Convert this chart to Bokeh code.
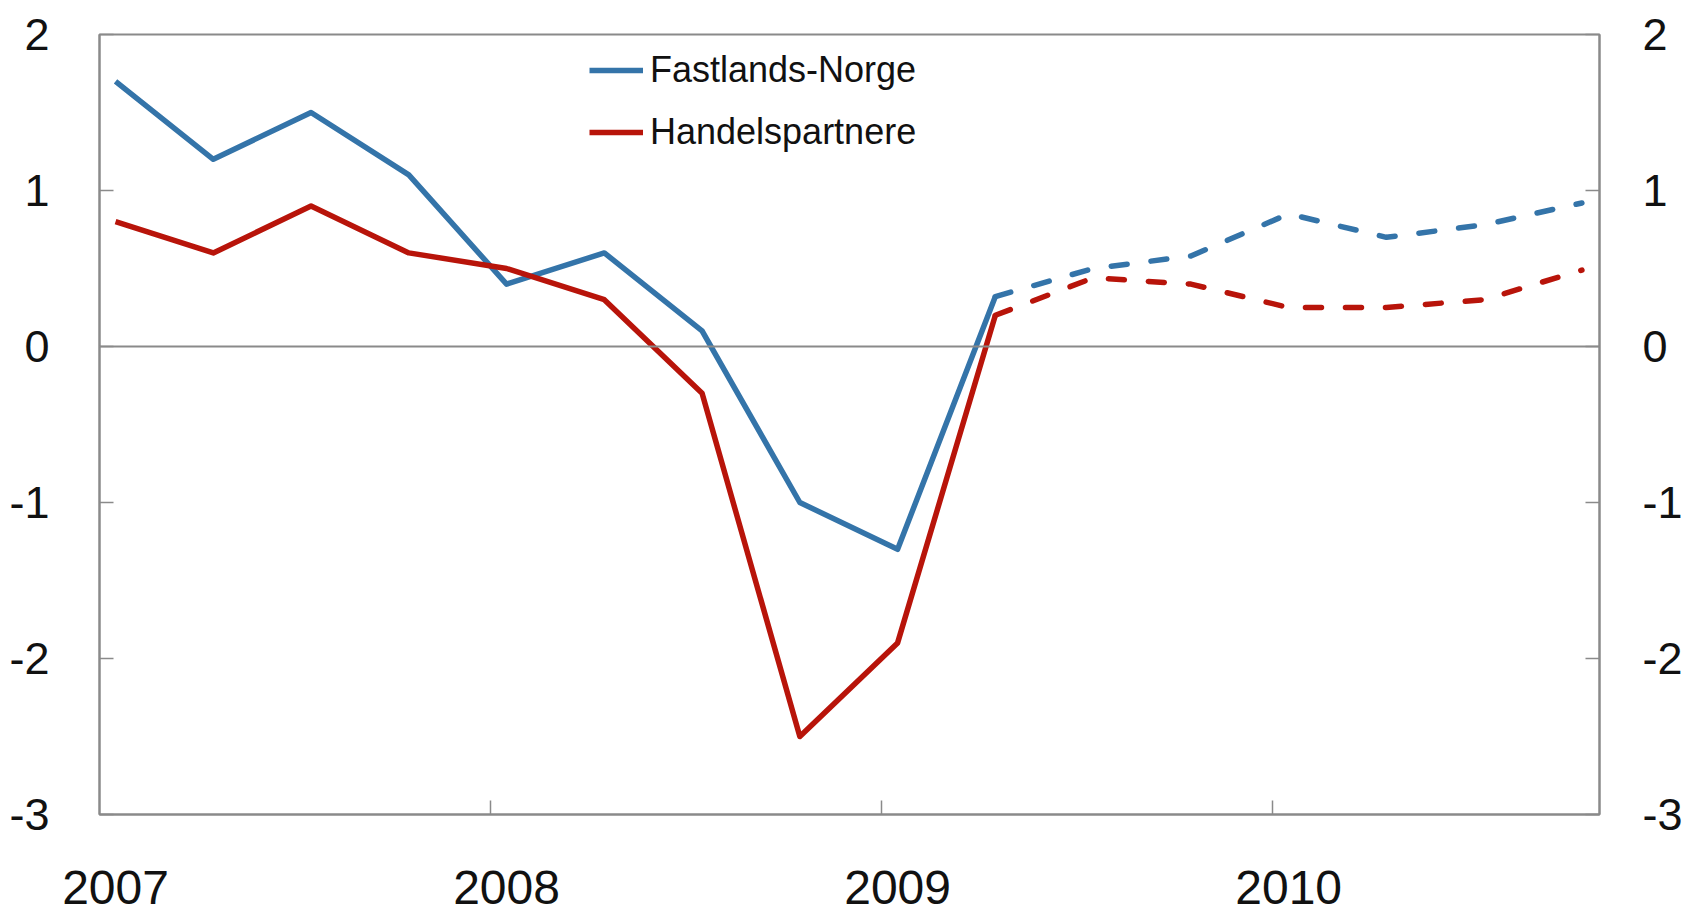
from bokeh.plotting import figure
from bokeh.models import (Range1d, FixedTicker, LinearAxis, Span, Legend, LegendItem)
from bokeh.embed import file_html
from bokeh.resources import INLINE

# ---- data ----
quarters = list(range(16))  # 2007Q1 .. 2010Q4
fastlands = [1.70, 1.20, 1.50, 1.10, 0.40, 0.60, 0.10, -1.00, -1.30, 0.32,
             0.50, 0.58, 0.85, 0.70, 0.78, 0.92]
handels = [0.80, 0.60, 0.90, 0.60, 0.50, 0.30, -0.30, -2.50, -1.90, 0.20,
           0.44, 0.40, 0.25, 0.25, 0.30, 0.49]
forecast_start = 9
year_labels = ["2007", "2008", "2009", "2010"]
year_label_pos = [0, 4, 8, 12]
year_ticks = [3.84, 7.84, 11.84]
y_ticks = [-3, -2, -1, 0, 1, 2]
names = ["Fastlands-Norge", "Handelspartnere"]

BLUE = "#3474a9"
RED = "#b8140a"
GRAY = "#8a8a8a"
FONT = "Liberation Sans"
TXT = "#111111"

W, H = 1688, 908
p = figure(width=W, height=H, x_range=Range1d(-0.164, 15.18), y_range=Range1d(-3, 2),
           output_backend="svg", toolbar_location=None,
           x_axis_location=None, y_axis_location=None,
           min_border_left=99, min_border_right=89, min_border_top=34, min_border_bottom=94)
p.grid.visible = False
p.outline_line_color = GRAY
p.outline_line_width = 2
p.background_fill_color = "white"
p.border_fill_color = "white"

y_overrides = {t: str(t) for t in y_ticks}

def style_y(ax, standoff):
    ax.ticker = FixedTicker(ticks=y_ticks)
    ax.major_label_overrides = y_overrides
    ax.major_tick_in = 14
    ax.major_tick_out = 0
    ax.minor_tick_line_color = None
    ax.major_tick_line_color = GRAY
    ax.major_tick_line_width = 1.5
    ax.axis_line_color = GRAY
    ax.axis_line_width = 2
    ax.major_label_text_font = FONT
    ax.major_label_text_font_size = "45px"
    ax.major_label_text_color = TXT
    ax.major_label_standoff = standoff

yl = LinearAxis()
style_y(yl, 50)
p.add_layout(yl, "left")
yr = LinearAxis()
style_y(yr, 43)
p.add_layout(yr, "right")

xb = LinearAxis(ticker=FixedTicker(ticks=year_label_pos, minor_ticks=year_ticks))
xb.major_label_overrides = dict(zip(year_label_pos, year_labels))
xb.major_tick_in = 0
xb.major_tick_out = 0
xb.major_tick_line_color = None
xb.minor_tick_in = 14
xb.minor_tick_out = 0
xb.minor_tick_line_color = GRAY
xb.minor_tick_line_width = 1.5
xb.axis_line_color = GRAY
xb.axis_line_width = 2
xb.major_label_text_font = FONT
xb.major_label_text_font_size = "48px"
xb.major_label_text_color = TXT
xb.major_label_text_line_height = 0.6
xb.major_label_standoff = 56
p.add_layout(xb, "below")

p.add_layout(Span(location=0, dimension="width", line_color=GRAY, line_width=2))

renderers = []
for vals, col, name in [(fastlands, BLUE, names[0]), (handels, RED, names[1])]:
    r = p.line(quarters[:forecast_start + 1], vals[:forecast_start + 1],
               line_color=col, line_width=5.5, line_join="round")
    p.line(quarters[forecast_start:], vals[forecast_start:], line_color=col,
           line_width=5.5, line_dash="16 24", line_cap="round", line_join="round")
    renderers.append((name, r))

legend = Legend(items=[LegendItem(label=n, renderers=[r]) for n, r in renderers],
                location=(490, 661), padding=0, margin=0, spacing=20,
                glyph_width=54, glyph_height=40, label_height=40, label_standoff=7,
                label_text_font=FONT, label_text_font_size="36px", label_text_color=TXT,
                border_line_color=None, background_fill_alpha=0)
p.add_layout(legend, "center")

open("out.html", "w").write(file_html(p, INLINE))
